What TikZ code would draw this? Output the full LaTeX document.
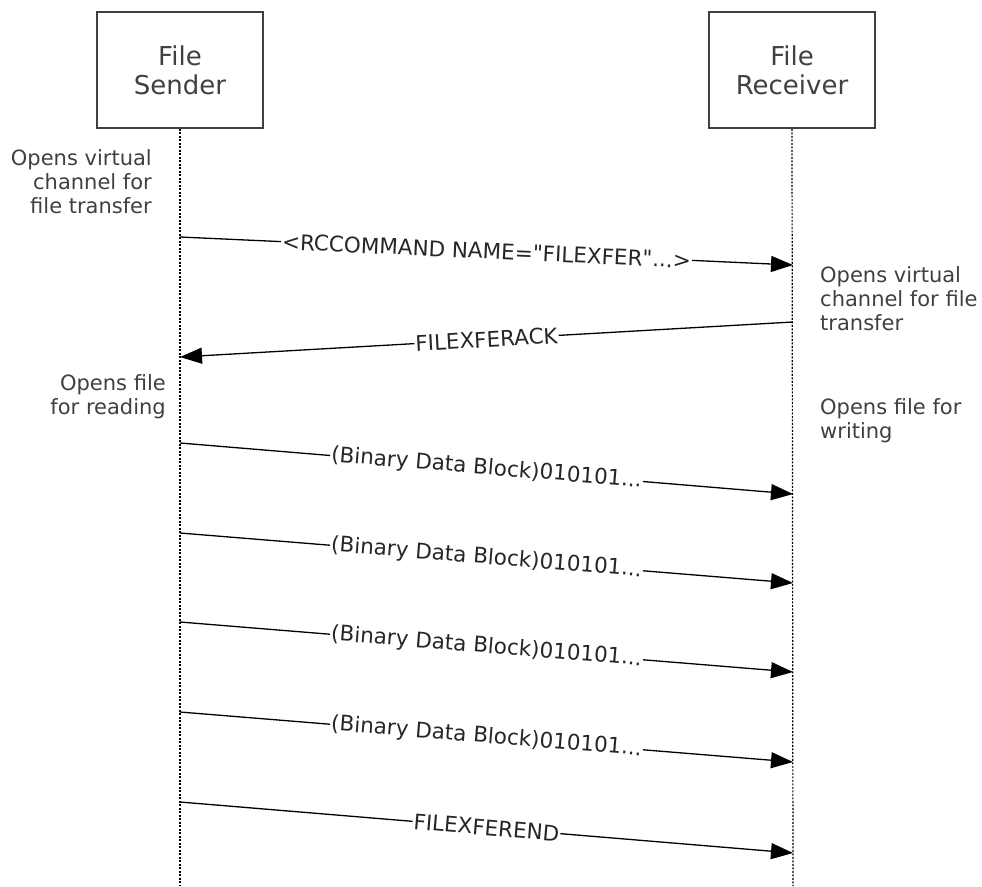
\documentclass[tikz,border=0pt]{standalone}
\usepackage{fontspec}
\setmainfont{DejaVu Sans}
\usetikzlibrary{arrows.meta}
\definecolor{txt}{HTML}{404040}
\begin{document}
\begin{tikzpicture}[x=1pt,y=-1pt,
  actor/.style={draw=black!75,line width=1.6pt,minimum width=166pt,minimum height=116pt,align=center,text=txt,font=\fontsize{26}{29}\selectfont},
  lifeline/.style={dash pattern=on 2pt off 1.5pt,line width=1.2pt,draw=black},
  msg/.style={line width=1.3pt,-{Triangle[length=22pt,width=16pt]},shorten >=0pt},
  lbl/.style={midway,sloped,fill=white,inner sep=1pt,text=black!85,font=\fontsize{21.5}{24}\selectfont},
  noteR/.style={align=right,text=txt,font=\fontsize{21}{24}\selectfont,inner sep=0pt},
  noteL/.style={align=left,text=txt,font=\fontsize{21}{24}\selectfont,inner sep=0pt}]
\useasboundingbox (0,0) rectangle (982,886);
\node[actor] (S) at (180,70) {File\\Sender};
\node[actor] (R) at (792,70) {File\\Receiver};
\coordinate (Sb) at (180,886);
\coordinate (Rb) at (793,886);
\draw[lifeline] (S.south) -- (Sb);
\draw[lifeline] (R.south) -- (Rb);
% notes
\node[noteR,anchor=north east] (n1) at (152,149) {Opens virtual\\channel for\\file transfer};
\node[noteL,anchor=north west] (n2) at (820,266) {Opens virtual\\channel for file\\transfer};
\node[noteR,anchor=north east] (n3) at (166,374) {Opens file\\for reading};
\node[noteL,anchor=north west] (n4) at (820,398) {Opens file for\\writing};
% message endpoints
\foreach \n/\ya/\yb in {a/237/265, c/443/494, d/533/583, e/622/672, f/712/762, g/802/853}{
  \coordinate (\n1) at (180,\ya);
  \coordinate (\n2) at (793,\yb);
}
\coordinate (b1) at (793,322);
\coordinate (b2) at (180,357);
\draw[msg] (a1) -- (a2) node[lbl] {<RCCOMMAND NAME=\textquotedbl FILEXFER\textquotedbl...>};
\draw[msg] (b1) -- (b2) node[lbl] {FILEXFERACK};
\draw[msg] (c1) -- (c2) node[lbl] {(Binary Data Block)010101...};
\draw[msg] (d1) -- (d2) node[lbl] {(Binary Data Block)010101...};
\draw[msg] (e1) -- (e2) node[lbl] {(Binary Data Block)010101...};
\draw[msg] (f1) -- (f2) node[lbl] {(Binary Data Block)010101...};
\draw[msg] (g1) -- (g2) node[lbl] {FILEXFEREND};
\end{tikzpicture}
\end{document}
